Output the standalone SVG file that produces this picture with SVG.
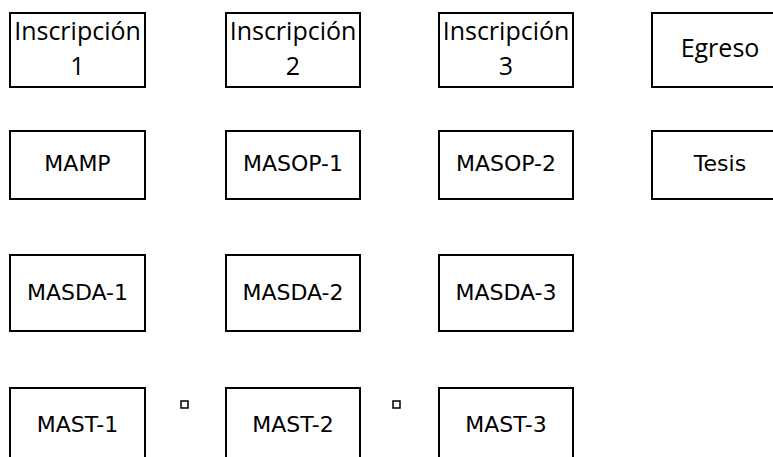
<svg xmlns="http://www.w3.org/2000/svg" width="773" height="457" viewBox="0 0 773 457">
<style>
.box{fill:#fff;stroke:#000;stroke-width:2}
.sq{fill:none;stroke:#000;stroke-width:1.5}
.h{font-family:"Open Sans","Noto Sans",sans-serif;font-size:25px;fill:#000;text-anchor:middle}
.t{font-family:"DejaVu Sans","Liberation Sans",sans-serif;font-size:22px;fill:#000;text-anchor:middle}
</style>
<rect width="773" height="457" fill="#fff"/>
<g id="inscripcion1"><rect class="box" x="10" y="13" width="135" height="74"/><text class="h" x="77.5" y="40">Inscripción</text><text class="h" x="77.5" y="75">1</text></g>
<g id="inscripcion2"><rect class="box" x="226" y="13" width="134" height="74"/><text class="h" x="293" y="40">Inscripción</text><text class="h" x="293" y="75">2</text></g>
<g id="inscripcion3"><rect class="box" x="439" y="13" width="134" height="74"/><text class="h" x="506" y="40">Inscripción</text><text class="h" x="506" y="75">3</text></g>
<g id="egreso"><rect class="box" x="652" y="13" width="134" height="74"/><text class="h" x="720" y="57">Egreso</text></g>
<g id="mamp"><rect class="box" x="10" y="131" width="135" height="68"/><text class="t" x="77.5" y="171">MAMP</text></g>
<g id="masop1"><rect class="box" x="226" y="131" width="134" height="68"/><text class="t" x="293" y="171">MASOP-1</text></g>
<g id="masop2"><rect class="box" x="439" y="131" width="134" height="68"/><text class="t" x="506" y="171">MASOP-2</text></g>
<g id="tesis"><rect class="box" x="652" y="131" width="134" height="68"/><text class="t" x="720" y="171">Tesis</text></g>
<g id="masda1"><rect class="box" x="10" y="255" width="135" height="76"/><text class="t" x="77.5" y="300">MASDA-1</text></g>
<g id="masda2"><rect class="box" x="226" y="255" width="134" height="76"/><text class="t" x="293" y="300">MASDA-2</text></g>
<g id="masda3"><rect class="box" x="439" y="255" width="134" height="76"/><text class="t" x="506" y="300">MASDA-3</text></g>
<g id="mast1"><rect class="box" x="10" y="388" width="135" height="80"/><text class="t" x="77.5" y="432">MAST-1</text></g>
<g id="mast2"><rect class="box" x="226" y="388" width="134" height="80"/><text class="t" x="293" y="432">MAST-2</text></g>
<g id="mast3"><rect class="box" x="439" y="388" width="134" height="80"/><text class="t" x="506" y="432">MAST-3</text></g>
<g id="connectors">
<rect class="sq" x="181" y="401" width="7" height="7"/>
<rect class="sq" x="393" y="401" width="7" height="7"/>
</g>
</svg>
